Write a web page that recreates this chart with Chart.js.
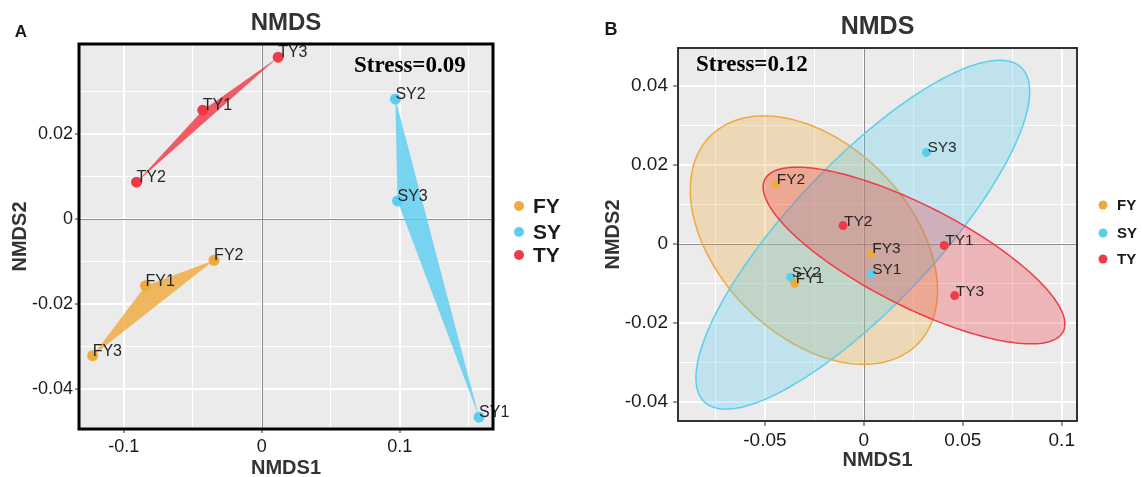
<!DOCTYPE html>
<html>
<head>
<meta charset="utf-8">
<script src="https://cdn.jsdelivr.net/npm/chart.js@4.4.1/dist/chart.umd.min.js"></script>
<style>
  html, body { margin: 0; padding: 0; background: #fff; }
  #wrap { position: relative; width: 1142px; height: 477px; }
  #nmdsA { position: absolute; left: 0; top: 0; }
  #nmdsB { position: absolute; left: 570px; top: 0; }
</style>
</head>
<body>
<div id="wrap">
  <canvas id="nmdsA" width="570" height="477"></canvas>
  <canvas id="nmdsB" width="572" height="477"></canvas>
</div>
<script>
// groups
const groupNames = ["FY", "SY", "TY"];
const groupColors = ["#EFA93E", "#5BCEF0", "#EE3B47"];

const fyLabels = ["FY1", "FY2", "FY3"];
const syLabels = ["SY1", "SY2", "SY3"];
const tyLabels = ["TY1", "TY2", "TY3"];

// panel A scores (NMDS1, NMDS2)
const fyA_x = [-0.0842, -0.0345, -0.1225];
const fyA_y = [-0.0157, -0.0097, -0.0322];
const syA_x = [0.1575, 0.0969, 0.0984];
const syA_y = [-0.0467, 0.0283, 0.0043];
const tyA_x = [-0.0427, -0.0907, 0.0119];
const tyA_y = [0.0257, 0.0087, 0.0382];

// panel B scores
const fyB_x = [-0.0349, -0.0445, 0.0037];
const fyB_y = [-0.0099, 0.0151, -0.0024];
const syB_x = [0.0037, -0.0369, 0.0316];
const syB_y = [-0.0077, -0.0085, 0.0231];
const tyB_x = [0.0406, -0.0105, 0.0459];
const tyB_y = [-0.0004, 0.0046, -0.0131];

// axis ticks and limits
const xTicksA = [-0.1, 0, 0.1];
const yTicksA = [-0.04, -0.02, 0, 0.02];
const xTicksB = [-0.05, 0, 0.05, 0.1];
const yTicksB = [-0.04, -0.02, 0, 0.02, 0.04];
const xLimA = [-0.1324, 0.1676];
const yLimA = [-0.0495, 0.0413];
const xLimB = [-0.0939, 0.1077];
const yLimB = [-0.0448, 0.0495];

const CHI2_95 = 5.991; // qchisq(0.95, 2) for the confidence ellipses

const SANS = '"Liberation Sans", Arial, sans-serif';
const SERIF = '"Liberation Serif", "Times New Roman", serif';

function toPoints(xs, ys, labels) {
    return xs.map((x, i) => ({ x: x, y: ys[i], label: labels[i] }));
}

const pointsA = [toPoints(fyA_x, fyA_y, fyLabels), toPoints(syA_x, syA_y, syLabels), toPoints(tyA_x, tyA_y, tyLabels)];
const pointsB = [toPoints(fyB_x, fyB_y, fyLabels), toPoints(syB_x, syB_y, syLabels), toPoints(tyB_x, tyB_y, tyLabels)];

// major ticks plus the minor ones half way between
function withMinor(major, lim) {
    const step = major[1] - major[0];
    const vals = major.slice();
    for (let i = -1; i < major.length; i++) {
        vals.push(Math.round((major[0] + (i + 0.5) * step) * 1e6) / 1e6);
    }
    return vals.filter(v => v >= lim[0] && v <= lim[1]).sort((a, b) => a - b);
}

function isMajor(major, v) {
    return major.some(m => Math.abs(m - v) < 1e-9);
}

function axis(major, lim, fontSize, tickLen, pad, size) {
    return {
        type: "linear",
        min: lim[0],
        max: lim[1],
        afterBuildTicks: s => { s.ticks = withMinor(major, lim).map(v => ({ value: v })); },
        afterFit: s => {
            if (s.isHorizontal()) s.height = size; else s.width = size;
            s.paddingLeft = s.paddingRight = s.paddingTop = s.paddingBottom = 0;
        },
        border: { display: false },
        grid: {
            color: "#ffffff",
            lineWidth: c => (c.tick && isMajor(major, c.tick.value)) ? 2 : 1,
            tickColor: c => (c.tick && isMajor(major, c.tick.value)) ? "#333333" : "rgba(0,0,0,0)",
            tickLength: tickLen,
            tickWidth: 1
        },
        ticks: {
            autoSkip: false,
            maxRotation: 0,
            padding: pad,
            color: "#1a1a1a",
            font: { family: SANS, size: fontSize },
            callback: v => isMajor(major, v) ? String(v) : ""
        }
    };
}

// convex hull (monotone chain)
function hull(pts) {
    const p = pts.slice().sort((a, b) => a.x - b.x || a.y - b.y);
    const cross = (o, a, b) => (a.x - o.x) * (b.y - o.y) - (a.y - o.y) * (b.x - o.x);
    const lower = [], upper = [];
    p.forEach(q => {
        while (lower.length >= 2 && cross(lower[lower.length - 2], lower[lower.length - 1], q) <= 0) lower.pop();
        lower.push(q);
    });
    p.slice().reverse().forEach(q => {
        while (upper.length >= 2 && cross(upper[upper.length - 2], upper[upper.length - 1], q) <= 0) upper.pop();
        upper.push(q);
    });
    return lower.slice(0, -1).concat(upper.slice(0, -1));
}

// 95% normal ellipse from the group's mean and covariance
function ellipse(pts, n) {
    const k = pts.length;
    const mx = pts.reduce((s, p) => s + p.x, 0) / k;
    const my = pts.reduce((s, p) => s + p.y, 0) / k;
    let sxx = 0, syy = 0, sxy = 0;
    pts.forEach(p => {
        sxx += (p.x - mx) * (p.x - mx);
        syy += (p.y - my) * (p.y - my);
        sxy += (p.x - mx) * (p.y - my);
    });
    sxx /= (k - 1); syy /= (k - 1); sxy /= (k - 1);
    const l11 = Math.sqrt(sxx);
    const l21 = sxy / l11;
    const l22 = Math.sqrt(Math.max(syy - l21 * l21, 0));
    const r = Math.sqrt(CHI2_95);
    const out = [];
    for (let i = 0; i <= n; i++) {
        const t = 2 * Math.PI * i / n;
        const c = Math.cos(t), s = Math.sin(t);
        out.push({ x: mx + r * l11 * c, y: my + r * (l21 * c + l22 * s) });
    }
    return out;
}

function hexA(hex, a) {
    const n = parseInt(hex.slice(1), 16);
    return `rgba(${n >> 16},${(n >> 8) & 255},${n & 255},${a})`;
}

function makeDecor(cfg) {
    return {
        id: "nmdsDecor" + cfg.panel,
        beforeDraw(chart) {
            const { ctx, chartArea: a } = chart;
            ctx.save();
            ctx.fillStyle = "#EBEBEB";
            ctx.fillRect(a.left, a.top, a.width, a.height);
            ctx.restore();
        },
        beforeDatasetsDraw(chart) {
            const { ctx, chartArea: a, scales } = chart;
            const px = v => scales.x.getPixelForValue(v);
            const py = v => scales.y.getPixelForValue(v);
            ctx.save();
            ctx.beginPath();
            ctx.rect(a.left, a.top, a.width, a.height);
            ctx.clip();
            // zero reference lines
            ctx.strokeStyle = "#8c8c8c";
            ctx.lineWidth = 1;
            ctx.beginPath();
            ctx.moveTo(Math.round(px(0)) + 0.5, a.top);
            ctx.lineTo(Math.round(px(0)) + 0.5, a.bottom);
            ctx.moveTo(a.left, Math.round(py(0)) + 0.5);
            ctx.lineTo(a.right, Math.round(py(0)) + 0.5);
            ctx.stroke();
            cfg.groups.forEach((pts, gi) => {
                const shape = cfg.shape === "hull" ? hull(pts) : ellipse(pts, 180);
                ctx.beginPath();
                shape.forEach((p, i) => {
                    if (i === 0) ctx.moveTo(px(p.x), py(p.y));
                    else ctx.lineTo(px(p.x), py(p.y));
                });
                ctx.closePath();
                ctx.fillStyle = hexA(groupColors[gi], cfg.fillAlpha);
                ctx.fill();
                if (cfg.shape !== "hull") {
                    ctx.strokeStyle = groupColors[gi];
                    ctx.lineWidth = 1.5;
                    ctx.stroke();
                }
            });
            ctx.restore();
        },
        afterDatasetsDraw(chart) {
            const { ctx, scales } = chart;
            ctx.save();
            ctx.fillStyle = "#262626";
            ctx.font = `${cfg.labelSize}px ${SANS}`;
            ctx.textAlign = "left";
            ctx.textBaseline = "alphabetic";
            cfg.groups.forEach(pts => pts.forEach(p => {
                ctx.fillText(p.label, scales.x.getPixelForValue(p.x) + cfg.labelDx, scales.y.getPixelForValue(p.y));
            }));
            ctx.restore();
        },
        afterDraw(chart) {
            const { ctx, chartArea: a } = chart;
            const cx = (a.left + a.right) / 2;
            const cy = (a.top + a.bottom) / 2;
            ctx.save();
            // panel border
            ctx.strokeStyle = cfg.borderColor;
            ctx.lineWidth = cfg.borderWidth;
            ctx.strokeRect(a.left, a.top, a.width, a.height);

            ctx.fillStyle = "#1a1a1a";
            ctx.textBaseline = "middle";
            ctx.textAlign = "center";
            ctx.font = `bold ${cfg.letterSize}px ${SANS}`;
            ctx.fillText(cfg.panel, cfg.letterXY[0], cfg.letterXY[1]);

            ctx.fillStyle = "#333333";
            ctx.font = `bold ${cfg.titleSize}px ${SANS}`;
            ctx.fillText("NMDS", cx, cfg.titleY);

            ctx.font = `bold ${cfg.axisTitleSize}px ${SANS}`;
            ctx.fillText("NMDS1", cx, cfg.xTitleY);
            ctx.save();
            ctx.translate(cfg.yTitleX, cy);
            ctx.rotate(-Math.PI / 2);
            ctx.fillText("NMDS2", 0, 0);
            ctx.restore();

            ctx.fillStyle = "#000000";
            ctx.textAlign = "left";
            ctx.font = `bold ${cfg.stressSize}px ${SERIF}`;
            ctx.fillText(cfg.stress, cfg.stressXY[0], cfg.stressXY[1]);

            // legend
            ctx.font = `bold ${cfg.legendSize}px ${SANS}`;
            groupNames.forEach((g, i) => {
                ctx.fillStyle = groupColors[i];
                ctx.beginPath();
                ctx.arc(cfg.legendX, cfg.legendY[i], cfg.legendR, 0, 2 * Math.PI);
                ctx.fill();
                ctx.fillStyle = "#1a1a1a";
                ctx.fillText(g, cfg.legendX + 14, cfg.legendY[i] + 1);
            });
            ctx.restore();
        }
    };
}

function makeChart(id, groups, xMajor, yMajor, xLim, yLim, lay, decor) {
    return new Chart(document.getElementById(id), {
        type: "scatter",
        data: {
            datasets: groupNames.map((g, i) => ({
                label: g,
                data: groups[i],
                backgroundColor: groupColors[i],
                borderWidth: 0,
                pointRadius: lay.pointR,
                pointHoverRadius: lay.pointR
            }))
        },
        options: {
            responsive: false,
            animation: false,
            events: [],
            layout: { padding: { top: lay.top, right: lay.right, left: 0, bottom: 0 } },
            scales: {
                x: axis(xMajor, xLim, lay.tickFont, lay.tickLen, lay.xPad, lay.xAxisH),
                y: axis(yMajor, yLim, lay.tickFont, lay.tickLen, lay.yPad, lay.yAxisW)
            },
            plugins: {
                legend: { display: false },
                tooltip: { enabled: false },
                title: { display: false }
            }
        },
        plugins: [makeDecor(decor)]
    });
}

makeChart("nmdsA", pointsA, xTicksA, yTicksA, xLimA, yLimA,
    { top: 44, right: 77, yAxisW: 79, xAxisH: 48, tickFont: 18, tickLen: 4, xPad: 3, yPad: 2, pointR: 5.5 },
    {
        panel: "A", shape: "hull", groups: pointsA, fillAlpha: 0.82,
        letterXY: [21, 32], letterSize: 17, titleY: 23, titleSize: 24,
        xTitleY: 468, yTitleX: 20, axisTitleSize: 20,
        stress: "Stress=0.09", stressXY: [354, 66], stressSize: 23,
        legendX: 519, legendY: [206, 232, 255], legendR: 5, legendSize: 21,
        borderWidth: 3, borderColor: "#000000", labelSize: 16, labelDx: 0
    });

makeChart("nmdsB", pointsB, xTicksB, yTicksB, xLimB, yLimB,
    { top: 48, right: 65, yAxisW: 108, xAxisH: 56, tickFont: 19, tickLen: 5, xPad: 3, yPad: 5, pointR: 4.5 },
    {
        panel: "B", shape: "ellipse", groups: pointsB, fillAlpha: 0.3,
        letterXY: [41, 30], letterSize: 18, titleY: 27, titleSize: 25,
        xTitleY: 460, yTitleX: 43, axisTitleSize: 20,
        stress: "Stress=0.12", stressXY: [126, 65], stressSize: 23,
        legendX: 533, legendY: [205, 233, 259], legendR: 4.5, legendSize: 15,
        borderWidth: 2, borderColor: "#333333", labelSize: 15.5, labelDx: 1
    });
</script>
</body>
</html>
